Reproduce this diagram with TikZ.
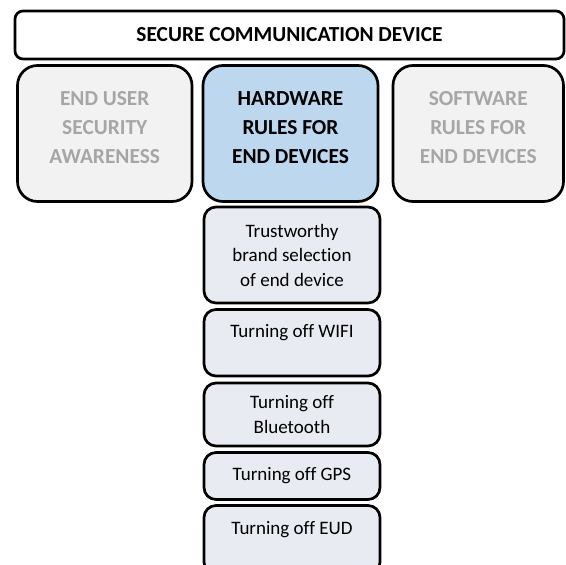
\documentclass[tikz,border=0pt]{standalone}
\usepackage{fontspec}
\setmainfont[Ligatures=NoCommon]{Carlito}
\usepackage{tikz}

\definecolor{boxgray}{HTML}{F2F2F2}
\definecolor{textgray}{HTML}{A6A6A6}
\definecolor{hwblue}{HTML}{BDD7EE}
\definecolor{subfill}{HTML}{E9EBF2}

\tikzset{
  titlebox/.style={draw, line width=2.7pt, rounded corners=8pt, fill=white,
    font=\fontsize{21.4}{29}\selectfont\bfseries},
  rowbox/.style={draw, line width=2.7pt, rounded corners=20pt,
    minimum width=175pt, minimum height=136pt, inner sep=0pt},
  headtext/.style={align=center, font=\fontsize{21.4}{29}\selectfont\bfseries},
  subbox/.style={draw, line width=2.7pt, rounded corners=12pt, fill=subfill,
    minimum width=176pt, inner sep=0pt, align=center,
    font=\fontsize{19}{24.5}\selectfont}
}

\begin{document}
\begin{tikzpicture}[x=1pt,y=-1pt]

\def\subx{292}

\path[use as bounding box, clip] (0,0) rectangle (566,565);

%Top box
\node[titlebox, minimum width=549pt, minimum height=48pt] (secure) at (289.5,35)
     {SECURE COMMUNICATION DEVICE};

%Row boxes
\node[rowbox, fill=boxgray, minimum width=174.5pt,
      label={[headtext, text=textgray, yshift=5.5pt]center:{END USER\\SECURITY\\AWARENESS}}]
     (awareness) at (104.75,133.5) {};
\node[rowbox, fill=hwblue,
      label={[headtext, yshift=5.5pt]center:{HARDWARE\\RULES FOR\\END DEVICES}}]
     (hardware) at (290.5,133.5) {};
\node[rowbox, fill=boxgray, minimum width=170.5pt,
      label={[headtext, text=textgray, yshift=5.5pt]center:{SOFTWARE\\RULES FOR\\END DEVICES}}]
     (software) at (478.25,133.5) {};

%Hardware rules
\node[subbox, minimum height=96pt] (brand) at (\subx,255)
     {Trustworthy\\brand selection\\of end device};
\node[subbox, minimum height=66.5pt] (wifi) at (\subx,342.75)
     {Turning off WIFI\\\mbox{}};
\node[subbox, minimum height=63pt] (bluetooth) at (\subx,414.5)
     {Turning off\\Bluetooth};
\node[subbox, minimum height=47pt] (gps) at (\subx,476)
     {Turning off GPS};
\node[subbox, minimum height=68.5pt] (eud) at (\subx,539.75)
     {Turning off EUD\\\mbox{}};

\end{tikzpicture}
\end{document}
